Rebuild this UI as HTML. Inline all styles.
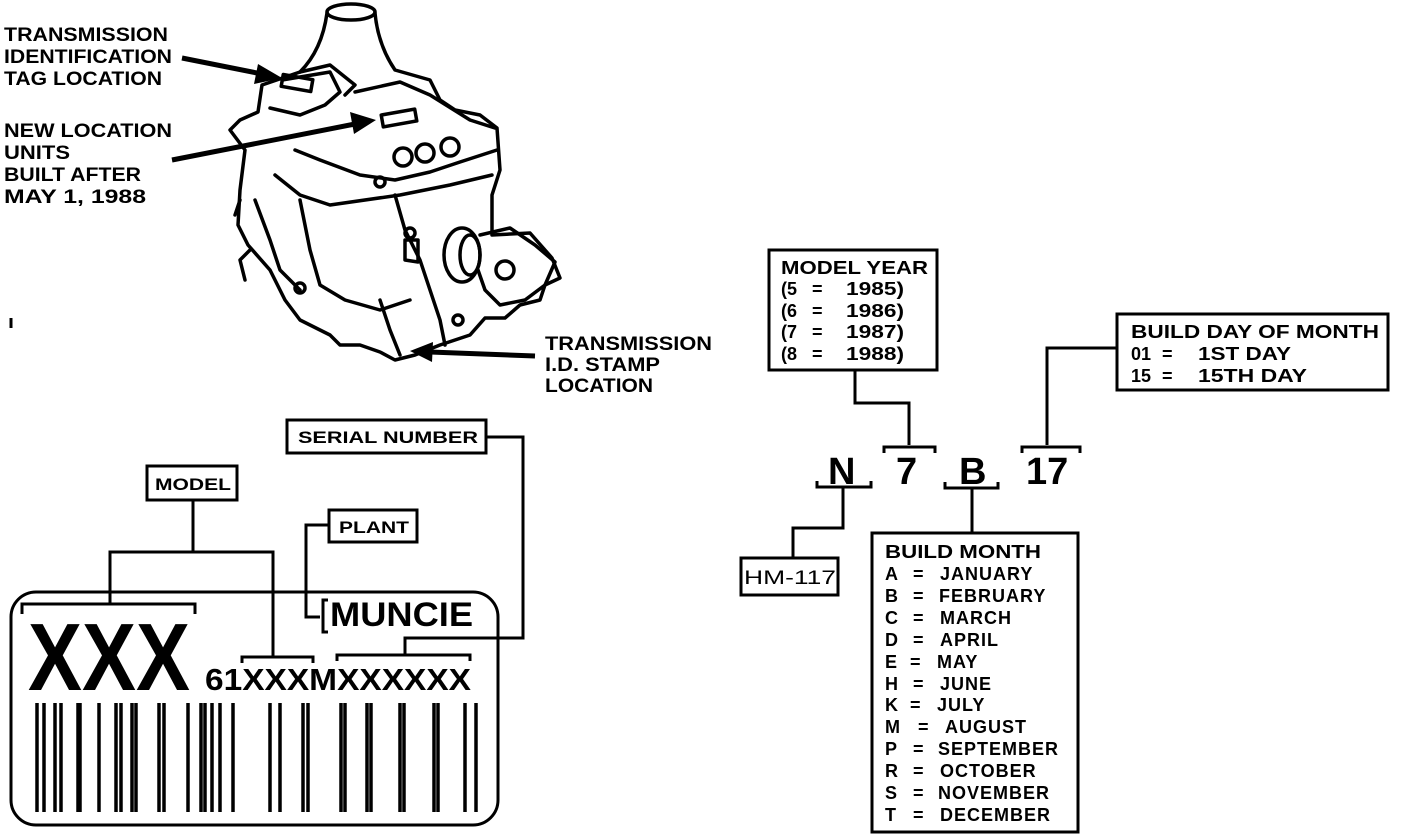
<!DOCTYPE html>
<html><head><meta charset="utf-8"><style>
html,body{margin:0;padding:0;background:#fff}
svg{display:block}
text{font-family:"Liberation Sans",sans-serif;font-weight:bold;fill:#000}
</style></head><body>
<svg width="1408" height="836" viewBox="0 0 1408 836" xmlns="http://www.w3.org/2000/svg">
<g font-size="19">
<text x="4" y="41" textLength="164" lengthAdjust="spacingAndGlyphs">TRANSMISSION</text>
<text x="4" y="63" textLength="168" lengthAdjust="spacingAndGlyphs">IDENTIFICATION</text>
<text x="4" y="85" textLength="158" lengthAdjust="spacingAndGlyphs">TAG LOCATION</text>
<text x="4" y="137" textLength="168" lengthAdjust="spacingAndGlyphs">NEW LOCATION</text>
<text x="4" y="159" textLength="66" lengthAdjust="spacingAndGlyphs">UNITS</text>
<text x="4" y="181" textLength="137" lengthAdjust="spacingAndGlyphs">BUILT AFTER</text>
<text x="4" y="203" textLength="142" lengthAdjust="spacingAndGlyphs">MAY 1, 1988</text>
<text x="545" y="350" textLength="167" lengthAdjust="spacingAndGlyphs">TRANSMISSION</text>
<text x="545" y="371" textLength="115" lengthAdjust="spacingAndGlyphs">I.D. STAMP</text>
<text x="545" y="392" textLength="108" lengthAdjust="spacingAndGlyphs">LOCATION</text>
</g>
<g fill="none" stroke="#000" stroke-width="3.5" stroke-linejoin="round" stroke-linecap="round">
<ellipse cx="351" cy="12" rx="24" ry="8"/>
<path d="M327 13 Q322 50 300 72 M375 13 Q378 45 395 70 L430 80 L440 100 L455 110 L480 115 L497 128 L500 170 L492 195 L492 235 L530 233 L552 258 L560 278 L545 285 L540 300 L520 305 L505 318 L485 318 L470 335 L440 345 L415 355 L395 360 L380 352 L360 345 L340 345 L330 335 L300 320 L285 300 L270 270 L248 245 L238 225 L240 190 L245 150 L230 130 L240 120 L258 112 L262 85 L300 72"/>
<path d="M282 80 L330 72 L340 92 L325 105 L300 115 L270 108 M300 72 L330 65 L355 85 L345 95"/>
<path d="M355 92 L400 82 L430 95 L470 120 L495 128"/>
<path d="M295 150 L320 160 L360 175 L395 180 L430 172 L460 162 L497 150"/>
<path d="M275 175 L300 195 L330 205 L400 195 L450 185 L492 175"/>
<path d="M300 200 L310 250 L320 285 L345 300 L380 310 L410 300"/>
<path d="M255 200 L270 240 L280 270 L300 290"/>
<path d="M395 195 L405 230 L420 260 L430 290 L440 320 L445 345"/>
<path d="M380 300 L390 330 L400 355"/>
<circle cx="403" cy="157" r="9"/><circle cx="425" cy="153" r="9"/><circle cx="450" cy="147" r="9"/>
<rect x="382" y="112" width="34" height="12" transform="rotate(-10 399 118)"/>
<rect x="282" y="77" width="30" height="12" transform="rotate(10 297 83)"/>
<ellipse cx="462" cy="255" rx="18" ry="27"/>
<ellipse cx="470" cy="255" rx="10" ry="20"/>
<path d="M480 235 L510 228 L535 245 L555 262 L545 285 L525 300 L500 305 L485 290 L478 270"/>
<circle cx="505" cy="270" r="9"/>
<path d="M405 240 L405 260 L418 262 L418 240 Z"/>
<circle cx="380" cy="182" r="5"/><circle cx="410" cy="233" r="5"/><circle cx="300" cy="288" r="5"/><circle cx="458" cy="320" r="5"/>
<path d="M240 200 L235 215 M250 250 L240 260 L245 280"/>
</g>
<g stroke="#000" stroke-width="5" fill="#000">
<line x1="182" y1="58" x2="262" y2="74"/>
<polygon points="282,78 258,64 254,84" stroke="none"/>
<line x1="172" y1="160" x2="355" y2="124"/>
<polygon points="376,120 350,112 354,134" stroke="none"/>
<line x1="535" y1="356" x2="430" y2="352"/>
<polygon points="410,351 433,342 432,362" stroke="none"/>
</g>
<g fill="none" stroke="#000" stroke-width="3">
<rect x="769" y="250" width="168" height="120"/>
<rect x="1117" y="314" width="271" height="76"/>
<rect x="741" y="558" width="97" height="37"/>
<rect x="872" y="533" width="206" height="299"/>
<path d="M855 370 V403 H909 V445"/>
<path d="M884 453 V447 H935 V453"/>
<path d="M1117 348 H1047 V445"/>
<path d="M1022 453 V447 H1080 V453"/>
<path d="M817 481 V487 H871 V481"/>
<path d="M843 487 V528 H793 V558"/>
<path d="M945 482 V488 H998 V482"/>
<path d="M972 488 V533"/>
</g>
<g font-size="38">
<text x="828" y="484">N</text>
<text x="896" y="484">7</text>
<text x="959" y="484">B</text>
<text x="1026" y="484">17</text>
</g>
<g font-size="18">
<text x="781" y="274" textLength="147" lengthAdjust="spacingAndGlyphs">MODEL YEAR</text>
<text x="781" y="295">(5</text><text x="812" y="295">=</text><text x="846" y="295" textLength="58" lengthAdjust="spacingAndGlyphs">1985)</text>
<text x="781" y="317">(6</text><text x="812" y="317">=</text><text x="846" y="317" textLength="58" lengthAdjust="spacingAndGlyphs">1986)</text>
<text x="781" y="338">(7</text><text x="812" y="338">=</text><text x="846" y="338" textLength="58" lengthAdjust="spacingAndGlyphs">1987)</text>
<text x="781" y="360">(8</text><text x="812" y="360">=</text><text x="846" y="360" textLength="58" lengthAdjust="spacingAndGlyphs">1988)</text>
<text x="1131" y="338" textLength="248" lengthAdjust="spacingAndGlyphs">BUILD DAY OF MONTH</text>
<text x="1131" y="360">01</text><text x="1162" y="360">=</text><text x="1198" y="360" textLength="93" lengthAdjust="spacingAndGlyphs">1ST DAY</text>
<text x="1131" y="382">15</text><text x="1162" y="382">=</text><text x="1198" y="382" textLength="109" lengthAdjust="spacingAndGlyphs">15TH DAY</text>
<text x="885" y="558" textLength="156" lengthAdjust="spacingAndGlyphs">BUILD MONTH</text>
</g>
<text x="744" y="584" font-size="19" style="font-weight:normal" textLength="92" lengthAdjust="spacingAndGlyphs">HM-117</text>
<g font-size="18" letter-spacing="1">
<text x="885" y="580">A</text><text x="913" y="580">=</text><text x="940" y="580">JANUARY</text>
<text x="885" y="602">B</text><text x="913" y="602">=</text><text x="939" y="602">FEBRUARY</text>
<text x="885" y="624">C</text><text x="913" y="624">=</text><text x="940" y="624">MARCH</text>
<text x="885" y="646">D</text><text x="913" y="646">=</text><text x="940" y="646">APRIL</text>
<text x="885" y="668">E</text><text x="910" y="668">=</text><text x="937" y="668">MAY</text>
<text x="885" y="690">H</text><text x="913" y="690">=</text><text x="940" y="690">JUNE</text>
<text x="885" y="711">K</text><text x="910" y="711">=</text><text x="937" y="711">JULY</text>
<text x="885" y="733">M</text><text x="918" y="733">=</text><text x="945" y="733">AUGUST</text>
<text x="885" y="755">P</text><text x="913" y="755">=</text><text x="938" y="755">SEPTEMBER</text>
<text x="885" y="777">R</text><text x="913" y="777">=</text><text x="940" y="777">OCTOBER</text>
<text x="885" y="799">S</text><text x="913" y="799">=</text><text x="938" y="799">NOVEMBER</text>
<text x="885" y="821">T</text><text x="913" y="821">=</text><text x="940" y="821">DECEMBER</text>
</g>
<g fill="none" stroke="#000" stroke-width="3">
<rect x="287" y="420" width="199" height="33"/>
<rect x="147" y="466" width="90" height="34"/>
<rect x="329" y="510" width="88" height="32"/>
<rect x="11" y="592" width="487" height="233" rx="25"/>
<path d="M486 437 H523 V638 H405 V655"/>
<path d="M337 661 V655 H470 V661"/>
<path d="M193 500 V552 H110 V604 M193 552 H273 V657"/>
<path d="M22 614 V604 H195 V614"/>
<path d="M242 663 V657 H313 V663"/>
<path d="M329 525 H306 V617 H320"/>
<path d="M328 600 H323 V632 H328"/>
</g>
<g font-size="17">
<text x="298" y="443" textLength="180" lengthAdjust="spacingAndGlyphs">SERIAL NUMBER</text>
<text x="155" y="490" textLength="76" lengthAdjust="spacingAndGlyphs">MODEL</text>
<text x="339" y="533" textLength="70" lengthAdjust="spacingAndGlyphs">PLANT</text>
</g>
<text x="28" y="690" font-size="96" textLength="162" lengthAdjust="spacingAndGlyphs">XXX</text>
<text x="205" y="690" font-size="31" textLength="266" lengthAdjust="spacingAndGlyphs">61XXXMXXXXXX</text>
<text x="330" y="626" font-size="34" textLength="143" lengthAdjust="spacingAndGlyphs">MUNCIE</text>
<g stroke="#000" stroke-width="3.5">
<path d="M37 703V812M44 703V812M55 703V812M61 703V812M78 703V812M80 703V812M99 703V812M116 703V812M121 703V812M132 703V812M136 703V812M159 703V812M164 703V812M188 703V812M201 703V812M205 703V812M212 703V812M220 703V812M233 703V812M270 703V812M280 703V812M303 703V812M308 703V812M341 703V812M345 703V812M367 703V812M371 703V812M400 703V812M404 703V812M434 703V812M438 703V812M465 703V812M476 703V812"/>
</g>
<path d="M11 318 V328" stroke="#000" stroke-width="3"/>
</svg>
</body></html>
